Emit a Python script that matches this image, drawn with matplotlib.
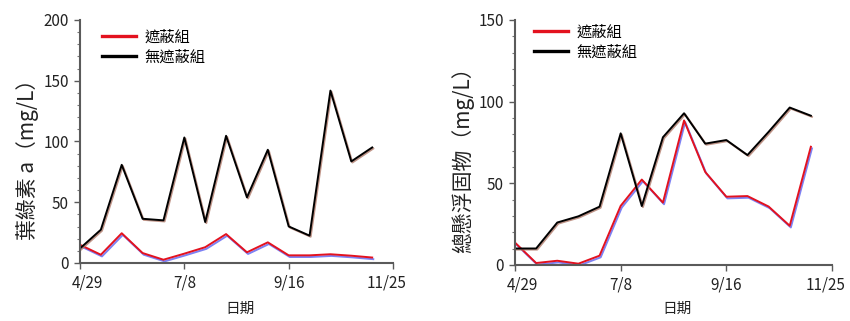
import datetime as dt
import matplotlib
matplotlib.use("Agg")
import matplotlib.pyplot as plt
import matplotlib.patheffects as pe
import matplotlib.transforms as mtransforms
from matplotlib.ticker import MultipleLocator

plt.rcParams['font.family'] = ['Noto Sans CJK TC', 'DejaVu Sans']

# sampling dates (every two weeks)
dates = ['04-29', '05-13', '05-27', '06-10', '06-24', '07-08', '07-22', '08-05',
         '08-19', '09-02', '09-16', '09-30', '10-14', '10-28', '11-11']
tick_dates = ['04-29', '07-08', '09-16', '11-25']
tick_labels = ['4/29', '7/8', '9/16', '11/25']

# chlorophyll a (mg/L)
chl_shade = [15, 6.8, 24.5, 8.2, 2.7, 7.7, 13, 23.8, 8.8, 17, 6.3, 6.3, 7.2, 6, 4.5]
chl_open = [12, 27.4, 80.8, 36.4, 35.1, 103.3, 33.7, 104.7, 54, 93.2, 30.1, 22.5, 141.9, 83.6, 95.1]

# total suspended solids (mg/L)
tss_shade = [13.7, 1.2, 2.6, 0.8, 5.7, 36.2, 52.3, 38.2, 88.5, 57, 41.8, 42.2, 35.8, 24, 72.4]
tss_open = [10.1, 10.1, 26, 29.8, 35.7, 80.6, 36.1, 78.2, 92.9, 74.3, 76.5, 67.3, 81.5, 96.4, 91.4]

x = [dt.datetime.strptime('2021-' + d, '%Y-%m-%d') for d in dates]
xt = [dt.datetime.strptime('2021-' + d, '%Y-%m-%d') for d in tick_dates]

fig = plt.figure(figsize=(8.5, 3.21), dpi=100)
ax1 = fig.add_axes([0.0941, 0.1807, 0.3683, 0.757])
ax2 = fig.add_axes([0.6059, 0.1745, 0.3729, 0.7632])

red_fx = [pe.SimpleLineShadow(offset=(0.8, -1.2), shadow_color='#6f73f2', alpha=0.9), pe.Normal()]
blk_fx = [pe.SimpleLineShadow(offset=(0.8, -0.8), shadow_color='#b07a6a', alpha=0.8), pe.Normal()]


def setup(ax, shade, opn, ymax, ylabel, lx, ly, xly):
    ax.plot(x, shade, color='#e3121f', lw=1.4, label='遮蔽組', path_effects=red_fx)
    ax.plot(x, opn, color='black', lw=1.4, label='無遮蔽組', path_effects=blk_fx)
    ax.set_xlim(xt[0], xt[-1])
    ax.set_ylim(0, ymax)
    ax.set_xticks(xt)
    ax.set_xticklabels(tick_labels)
    ax.yaxis.set_major_locator(MultipleLocator(50))
    ax.yaxis.set_minor_locator(MultipleLocator(10))
    for s in ['top', 'right']:
        ax.spines[s].set_visible(False)
    for s in ['left', 'bottom']:
        ax.spines[s].set_color('#5a5a5a')
        ax.spines[s].set_linewidth(1.5)
    ax.tick_params(axis='both', which='major', length=4, width=1, color='#5a5a5a',
                   labelsize=11, labelcolor='#222222', pad=4)
    ax.tick_params(axis='y', which='minor', length=2, width=0.8, color='#777777')
    ax.set_ylabel(ylabel, fontsize=15, color='#222222')
    ax.yaxis.set_label_coords(lx, ly)
    ax.set_xlabel('日期', fontsize=10.5, color='#222222', va='center')
    ax.xaxis.set_label_coords(0.51, xly)
    ax.patch.set_alpha(0)
    # end labels sit a little inside the axis ends
    labs = ax.get_xticklabels()
    labs[0].set_transform(labs[0].get_transform() +
                          mtransforms.ScaledTranslation(0.07, 0, fig.dpi_scale_trans))
    labs[-1].set_transform(labs[-1].get_transform() +
                           mtransforms.ScaledTranslation(-0.06, 0, fig.dpi_scale_trans))
    ax.legend(loc='upper left', frameon=False, fontsize=11, handlelength=2.2,
              handletextpad=0.6, labelspacing=0.2, borderpad=0, borderaxespad=0)


setup(ax1, chl_shade, chl_open, 200, '葉綠素 a（mg/L）', -0.13, 0.445, -0.19)
setup(ax2, tss_shade, tss_open, 150, '總懸浮固物（mg/L）', -0.13, 0.45, -0.18)

leg1 = ax1.get_legend()
leg1.set_bbox_to_anchor((0.07, 0.965), transform=ax1.transAxes)
leg2 = ax2.get_legend()
leg2.set_bbox_to_anchor((0.06, 0.985), transform=ax2.transAxes)
for leg in (leg1, leg2):
    for h in leg.legend_handles:
        h.set_linewidth(2.4)
        h.set_path_effects([])

fig.savefig('out.png', dpi=100)
